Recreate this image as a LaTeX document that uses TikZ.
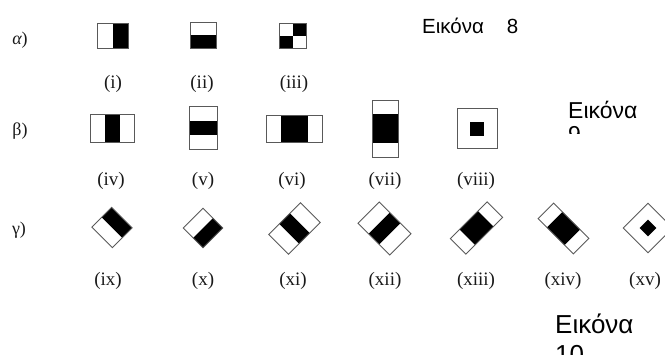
\documentclass[tikz,border=0pt]{standalone}
\usepackage{fontspec}
\newfontfamily\arialf{Liberation Sans}
\newfontfamily\timesf{Liberation Serif}
\newcommand\shpA[2]{% right half black
  \fill (0,-#2/2) rectangle (#1/2,#2/2);
  \draw[outl] (-#1/2,-#2/2) rectangle (#1/2,#2/2);}
\newcommand\shpB[2]{% bottom half black
  \fill (-#1/2,0) rectangle (#1/2,#2/2);
  \draw[outl] (-#1/2,-#2/2) rectangle (#1/2,#2/2);}
\newcommand\shpC[2]{% checker
  \fill (0,-#2/2) rectangle (#1/2,0);
  \fill (-#1/2,0) rectangle (0,#2/2);
  \draw[outl] (-#1/2,-#2/2) rectangle (#1/2,#2/2);}
\newcommand\shpD[3]{% vertical middle band black (width #3)
  \fill (-#3/2,-#2/2) rectangle (#3/2,#2/2);
  \draw[outl] (-#1/2,-#2/2) rectangle (#1/2,#2/2);}
\newcommand\shpE[3]{% horizontal middle band black (height #3)
  \fill (-#1/2,-#3/2) rectangle (#1/2,#3/2);
  \draw[outl] (-#1/2,-#2/2) rectangle (#1/2,#2/2);}
\newcommand\shpF[2]{% square with inner black square
  \fill (-#2/2,-#2/2) rectangle (#2/2,#2/2);
  \draw[outl] (-#1/2,-#1/2) rectangle (#1/2,#1/2);}
\begin{document}
\begin{tikzpicture}[x=1pt,y=-1pt,
  outl/.style={draw=black!65, line width=0.9pt},
  numlbl/.style={font=\timesf\fontsize{19}{22}\selectfont, text=black!90, inner sep=0pt},
  rowlbl/.style={font=\timesf\fontsize{18}{21}\selectfont, text=black!90, inner sep=0pt},
  caption/.style={text=black, inner sep=0pt, anchor=base west}]
\clip (0,0) rectangle (665,354);
% row alpha
\begin{scope}[shift={(112.5,35.5)}]\shpA{31}{25}\end{scope}
\begin{scope}[shift={(203,35)}]\shpB{26}{26}\end{scope}
\begin{scope}[shift={(293,35.5)}]\shpC{27}{25}\end{scope}
% row beta
\begin{scope}[shift={(112,128)}]\shpD{44}{28}{15}\end{scope}
\begin{scope}[shift={(203,127.5)}]\shpE{28}{43}{14}\end{scope}
\begin{scope}[shift={(294,128.5)}]\shpD{56}{27}{27}\end{scope}
\begin{scope}[shift={(385,128.5)}]\shpE{26}{57}{29}\end{scope}
\begin{scope}[shift={(477,128.5)}]\shpF{40}{14}\end{scope}
% row gamma
\begin{scope}[shift={(112,227.5)},rotate=45]\shpA{28}{29}\end{scope}
\begin{scope}[shift={(203,228)},rotate=45]\shpB{28}{28}\end{scope}
\begin{scope}[shift={(294.5,228.5)},rotate=45]\shpD{45}{28}{15}\end{scope}
\begin{scope}[shift={(384.5,228.5)},rotate=45]\shpE{30}{45}{15}\end{scope}
\begin{scope}[shift={(476.5,228)},rotate=45]\shpD{52}{22}{26}\end{scope}
\begin{scope}[shift={(563.5,228.5)},rotate=45]\shpE{22}{50}{25}\end{scope}
\begin{scope}[shift={(648,228)},rotate=45]\shpF{35}{12}\end{scope}
% row labels
\node[rowlbl] (la) at (20,40) {{\itshape α})};
\node[rowlbl] (lb) at (20,131) {β)};
\node[rowlbl] (lc) at (19,230) {γ)};
% numerals
\node[numlbl] (n1) at (113,84) {(i)};
\node[numlbl] (n2) at (202,84) {(ii)};
\node[numlbl] (n3) at (294,84) {(iii)};
\node[numlbl] (n4) at (111,181) {(iv)};
\node[numlbl] (n5) at (203,181) {(v)};
\node[numlbl] (n6) at (292,181) {(vi)};
\node[numlbl] (n7) at (385,181) {(vii)};
\node[numlbl] (n8) at (476,181) {(viii)};
\node[numlbl] (n9) at (108,281) {(ix)};
\node[numlbl] (n10) at (203,281) {(x)};
\node[numlbl] (n11) at (293,281) {(xi)};
\node[numlbl] (n12) at (385,281) {(xii)};
\node[numlbl] (n13) at (476,281) {(xiii)};
\node[numlbl] (n14) at (563,281) {(xiv)};
\node[numlbl] (n15) at (645,281) {(xv)};
% captions
\node[caption, font=\arialf\fontsize{20.5}{23}\selectfont] (c8) at (422,33) {Εικόνα\hspace{23pt}8};
\begin{scope}
\clip (540,90) rectangle (665,133);
\node[caption, font=\arialf\fontsize{23}{26.5}\selectfont] (c9a) at (568,118) {Εικόνα};
\node[caption, font=\arialf\fontsize{23}{26.5}\selectfont] (c9b) at (568,142) {9};
\end{scope}
\node[caption, font=\arialf\fontsize{26}{30}\selectfont] (c10a) at (555,333) {Εικόνα};
\node[caption, font=\arialf\fontsize{26}{30}\selectfont] (c10b) at (555,363) {10};
\end{tikzpicture}
\end{document}
